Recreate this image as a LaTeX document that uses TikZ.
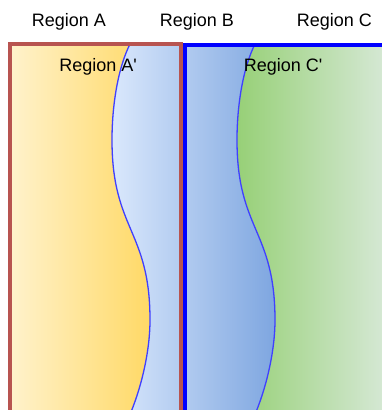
\documentclass[tikz,border=0pt]{standalone}
\usepackage{fontspec}
\setmainfont{Liberation Sans}
\usetikzlibrary{calc}
\definecolor{aLight}{HTML}{FFF2CC}
\definecolor{aDark}{HTML}{FFD966}
\definecolor{bLight}{HTML}{DAE8FC}
\definecolor{bDark}{HTML}{7EA6E0}
\definecolor{cLight}{HTML}{D5E8D4}
\definecolor{cDark}{HTML}{97D077}
\definecolor{aLine}{HTML}{B85450}
\definecolor{bWave}{HTML}{4040FF}
\newcommand{\wavedown}[1]{(#1+130,44) .. controls (#1+118,68) and (#1+112,105) .. (#1+112,140)
  .. controls (#1+112,230) and (#1+150,230) .. (#1+150,320)
  .. controls (#1+150,350) and (#1+142,385) .. (#1+131,412)}
\newcommand{\waveup}[1]{(#1+131,412) .. controls (#1+142,385) and (#1+150,350) .. (#1+150,320)
  .. controls (#1+150,230) and (#1+112,230) .. (#1+112,140)
  .. controls (#1+112,105) and (#1+118,68) .. (#1+130,44)}

\begin{document}
\begin{tikzpicture}[x=1pt,y=-1pt,font=\fontsize{18}{21}\selectfont,
  label/.style={anchor=base,inner sep=0pt},
  wave/.style={draw=bWave,line width=1.3pt}]
  \useasboundingbox (0,0) rectangle (382,410);
  \clip (0,0) rectangle (382,410);
  \coordinate (A1) at (10,44);
  \coordinate (A2) at (180.5,414);
  \coordinate (C1) at (185,45);
  \coordinate (C2) at (384,414);
  \shade[left color=aLight,right color=aDark] (10,44) -- \wavedown{0} -- (10,414) -- cycle;
  \shade[left color=cDark,right color=cLight] \wavedown{125} -- (384,414) -- (384,44) -- cycle;
  \shade[left color=bLight,right color=bDark] \wavedown{0} -- \waveup{125} -- cycle;
  \draw[wave] \wavedown{0};
  \draw[wave] \wavedown{125};
  \draw[aLine,line width=4pt] (A1) rectangle (A2);
  \draw[blue,line width=4pt] (C1) rectangle (C2);
  \node[label] (regA) at (69,26) {Region A};
  \node[label] (regB) at (197,26) {Region B};
  \node[label] (regC) at (334.5,26) {Region C};
  \node[label] (regAp) at (98,71.5) {Region A\textquotesingle};
  \node[label] (regCp) at (283,71.5) {Region C\textquotesingle};
\end{tikzpicture}
\end{document}
